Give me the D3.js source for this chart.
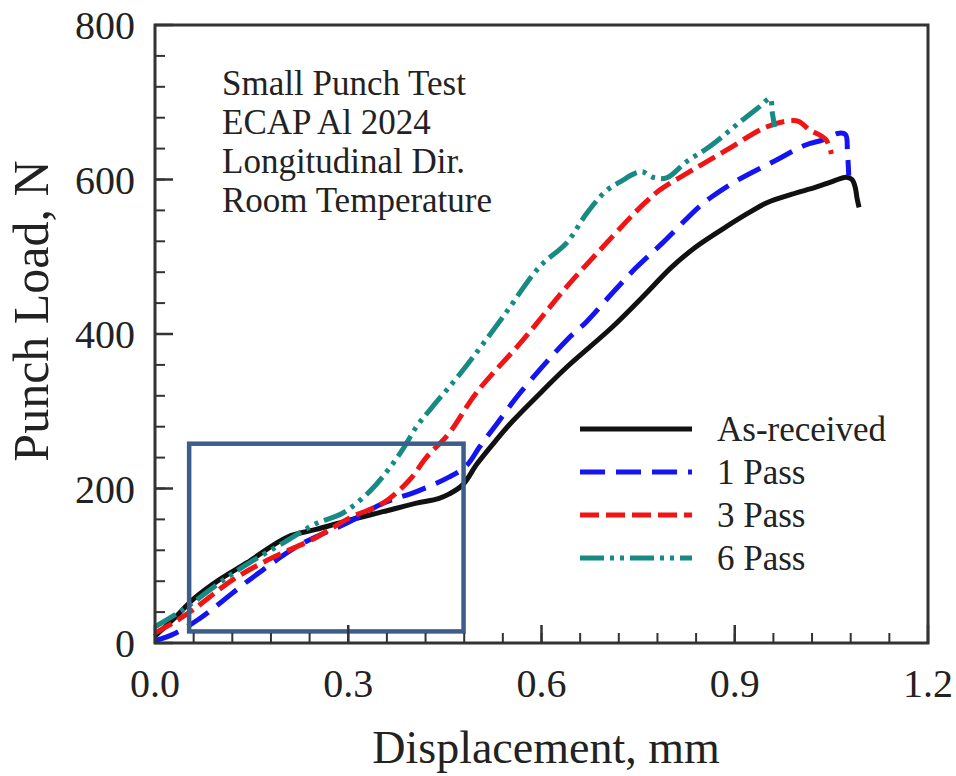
<!DOCTYPE html>
<html>
<head>
<meta charset="utf-8">
<script src="https://cdn.jsdelivr.net/npm/d3@7"></script>
<style>
  html, body { margin: 0; padding: 0; background: #fff; }
  svg { display: block; }
  text { font-family: "Liberation Serif", "Times New Roman", serif; fill: #222; }
</style>
</head>
<body>
<script>
// Small punch test curves: displacement (mm) vs punch load (N)
const asReceived = [[0,9],[0.03,32],[0.06,57],[0.1,82],[0.143,104],[0.205,137],[0.25,147],[0.302,159],[0.354,170],[0.406,181],[0.44,187],[0.457,193],[0.478,205],[0.50,232],[0.53,263],[0.555,287],[0.60,325],[0.639,357],[0.71,409],[0.763,453],[0.80,485],[0.84,513],[0.887,539],[0.922,557],[0.95,570],[0.989,581],[1.026,590],[1.05,597],[1.073,603],[1.082,600],[1.087,590],[1.09,575],[1.093,564]];
const pass1 = [[0,3],[0.03,12],[0.07,32],[0.147,82],[0.225,127],[0.302,157],[0.354,181],[0.406,196],[0.457,215],[0.484,230],[0.504,254],[0.53,283],[0.566,323],[0.639,392],[0.67,416],[0.71,453],[0.747,486],[0.788,518],[0.845,565],[0.865,578],[0.902,598],[0.964,625],[1.011,645],[1.036,651],[1.062,660],[1.072,658],[1.075,635],[1.077,605]];
const pass3 = [[0,13],[0.03,27],[0.059,43],[0.121,82],[0.174,107],[0.251,137],[0.302,162],[0.354,181],[0.395,211],[0.421,240],[0.457,272],[0.499,324],[0.571,392],[0.639,461],[0.71,526],[0.752,563],[0.783,586],[0.834,612],[0.887,638],[0.949,668],[0.985,676],[1.0,675],[1.015,665],[1.035,656],[1.042,651],[1.048,640],[1.05,633]];
const pass6 = [[0,21],[0.043,43],[0.112,85],[0.147,104],[0.198,129],[0.251,155],[0.291,168],[0.333,196],[0.36,222],[0.384,250],[0.406,280],[0.43,305],[0.478,353],[0.54,422],[0.597,487],[0.639,518],[0.67,556],[0.7,585],[0.726,599],[0.745,608],[0.757,610],[0.772,603],[0.794,602],[0.825,623],[0.86,642],[0.912,677],[0.938,694],[0.955,705],[0.958,688],[0.962,668]];

const seriesNames = ["As-received", "1 Pass", "3 Pass", "6 Pass"];
const seriesData = [asReceived, pass1, pass3, pass6];
const seriesColors = ["#111111", "#1414f0", "#f01414", "#178a84"];
const seriesDash = [null, "25 11", "19 7", "24 6 4 6 4 6"];

const xTicks = [0, 0.3, 0.6, 0.9, 1.2];
const yTicks = [0, 200, 400, 600, 800];
const xMinor = d3.range(0, 1.2001, 0.06);
const yMinor = d3.range(0, 800.1, 40);

const noteLines = ["Small Punch Test", "ECAP Al 2024", "Longitudinal Dir.", "Room Temperature"];
// highlighted region [x0, x1] mm, [y0, y1] N
const boxX = [0.053, 0.479];
const boxY = [15, 258];

const W = 956, H = 776;
const m = { left: 155, right: 28, top: 25, bottom: 133 };
const iw = W - m.left - m.right, ih = H - m.top - m.bottom;

const svg = d3.select("body").append("svg").attr("width", W).attr("height", H);
const g = svg.append("g").attr("transform", `translate(${m.left},${m.top})`);

const x = d3.scaleLinear().domain([0, 1.2]).range([0, iw]);
const y = d3.scaleLinear().domain([0, 800]).range([ih, 0]);

// curves
const line = d3.line().x(d => x(d[0])).y(d => y(d[1])).curve(d3.curveCatmullRom.alpha(0.5));
seriesData.forEach((data, i) => {
  g.append("path").datum(data)
    .attr("d", line)
    .attr("fill", "none")
    .attr("stroke", seriesColors[i])
    .attr("stroke-width", 5)
    .attr("stroke-linejoin", "round")
    .attr("stroke-dasharray", seriesDash[i]);
});

// highlight box
g.append("rect")
  .attr("x", x(boxX[0])).attr("y", y(boxY[1]))
  .attr("width", x(boxX[1]) - x(boxX[0]))
  .attr("height", y(boxY[0]) - y(boxY[1]))
  .attr("fill", "none").attr("stroke", "#3d5d8a").attr("stroke-width", 4.5);

// inward ticks
const tickColor = "#333";
g.selectAll(".xminor").data(xMinor).enter().append("line")
  .attr("x1", d => x(d)).attr("x2", d => x(d)).attr("y1", ih).attr("y2", ih - 10)
  .attr("stroke", tickColor).attr("stroke-width", 2);
g.selectAll(".xmajor").data(xTicks).enter().append("line")
  .attr("x1", d => x(d)).attr("x2", d => x(d)).attr("y1", ih).attr("y2", ih - 18)
  .attr("stroke", tickColor).attr("stroke-width", 2.5);
g.selectAll(".yminor").data(yMinor).enter().append("line")
  .attr("y1", d => y(d)).attr("y2", d => y(d)).attr("x1", 0).attr("x2", 10)
  .attr("stroke", tickColor).attr("stroke-width", 2);
g.selectAll(".ymajor").data(yTicks).enter().append("line")
  .attr("y1", d => y(d)).attr("y2", d => y(d)).attr("x1", 0).attr("x2", 18)
  .attr("stroke", tickColor).attr("stroke-width", 2.5);

// frame
g.append("rect").attr("x", 0).attr("y", 0).attr("width", iw).attr("height", ih)
  .attr("fill", "none").attr("stroke", "#333").attr("stroke-width", 3);

// tick labels
g.selectAll(".xl").data(xTicks).enter().append("text")
  .attr("x", d => x(d)).attr("y", ih + 54)
  .attr("text-anchor", "middle").attr("font-size", 40)
  .text(d => d.toFixed(1));
g.selectAll(".yl").data(yTicks).enter().append("text")
  .attr("x", -20).attr("y", d => y(d)).attr("dy", "0.35em")
  .attr("text-anchor", "end").attr("font-size", 40)
  .text(d => d);

// axis titles
svg.append("text").attr("x", 546).attr("y", 763)
  .attr("text-anchor", "middle").attr("font-size", 46)
  .text("Displacement, mm");
svg.append("text").attr("transform", "translate(48,311) rotate(-90)")
  .attr("text-anchor", "middle").attr("font-size", 50)
  .text("Punch Load, N");

// notes
g.selectAll(".note").data(noteLines).enter().append("text")
  .attr("x", 67).attr("y", (d, i) => 70 + i * 39)
  .attr("font-size", 35)
  .text(d => d);

// legend
const lg = g.append("g").attr("transform", "translate(425,404)");
seriesNames.forEach((name, i) => {
  const yy = i * 43;
  lg.append("line").attr("x1", 0).attr("x2", 112).attr("y1", yy).attr("y2", yy)
    .attr("stroke", seriesColors[i]).attr("stroke-width", 5)
    .attr("stroke-dasharray", seriesDash[i]);
  lg.append("text").attr("x", 137).attr("y", yy).attr("dy", "0.33em")
    .attr("font-size", 35).text(name);
});
</script>
</body>
</html>
